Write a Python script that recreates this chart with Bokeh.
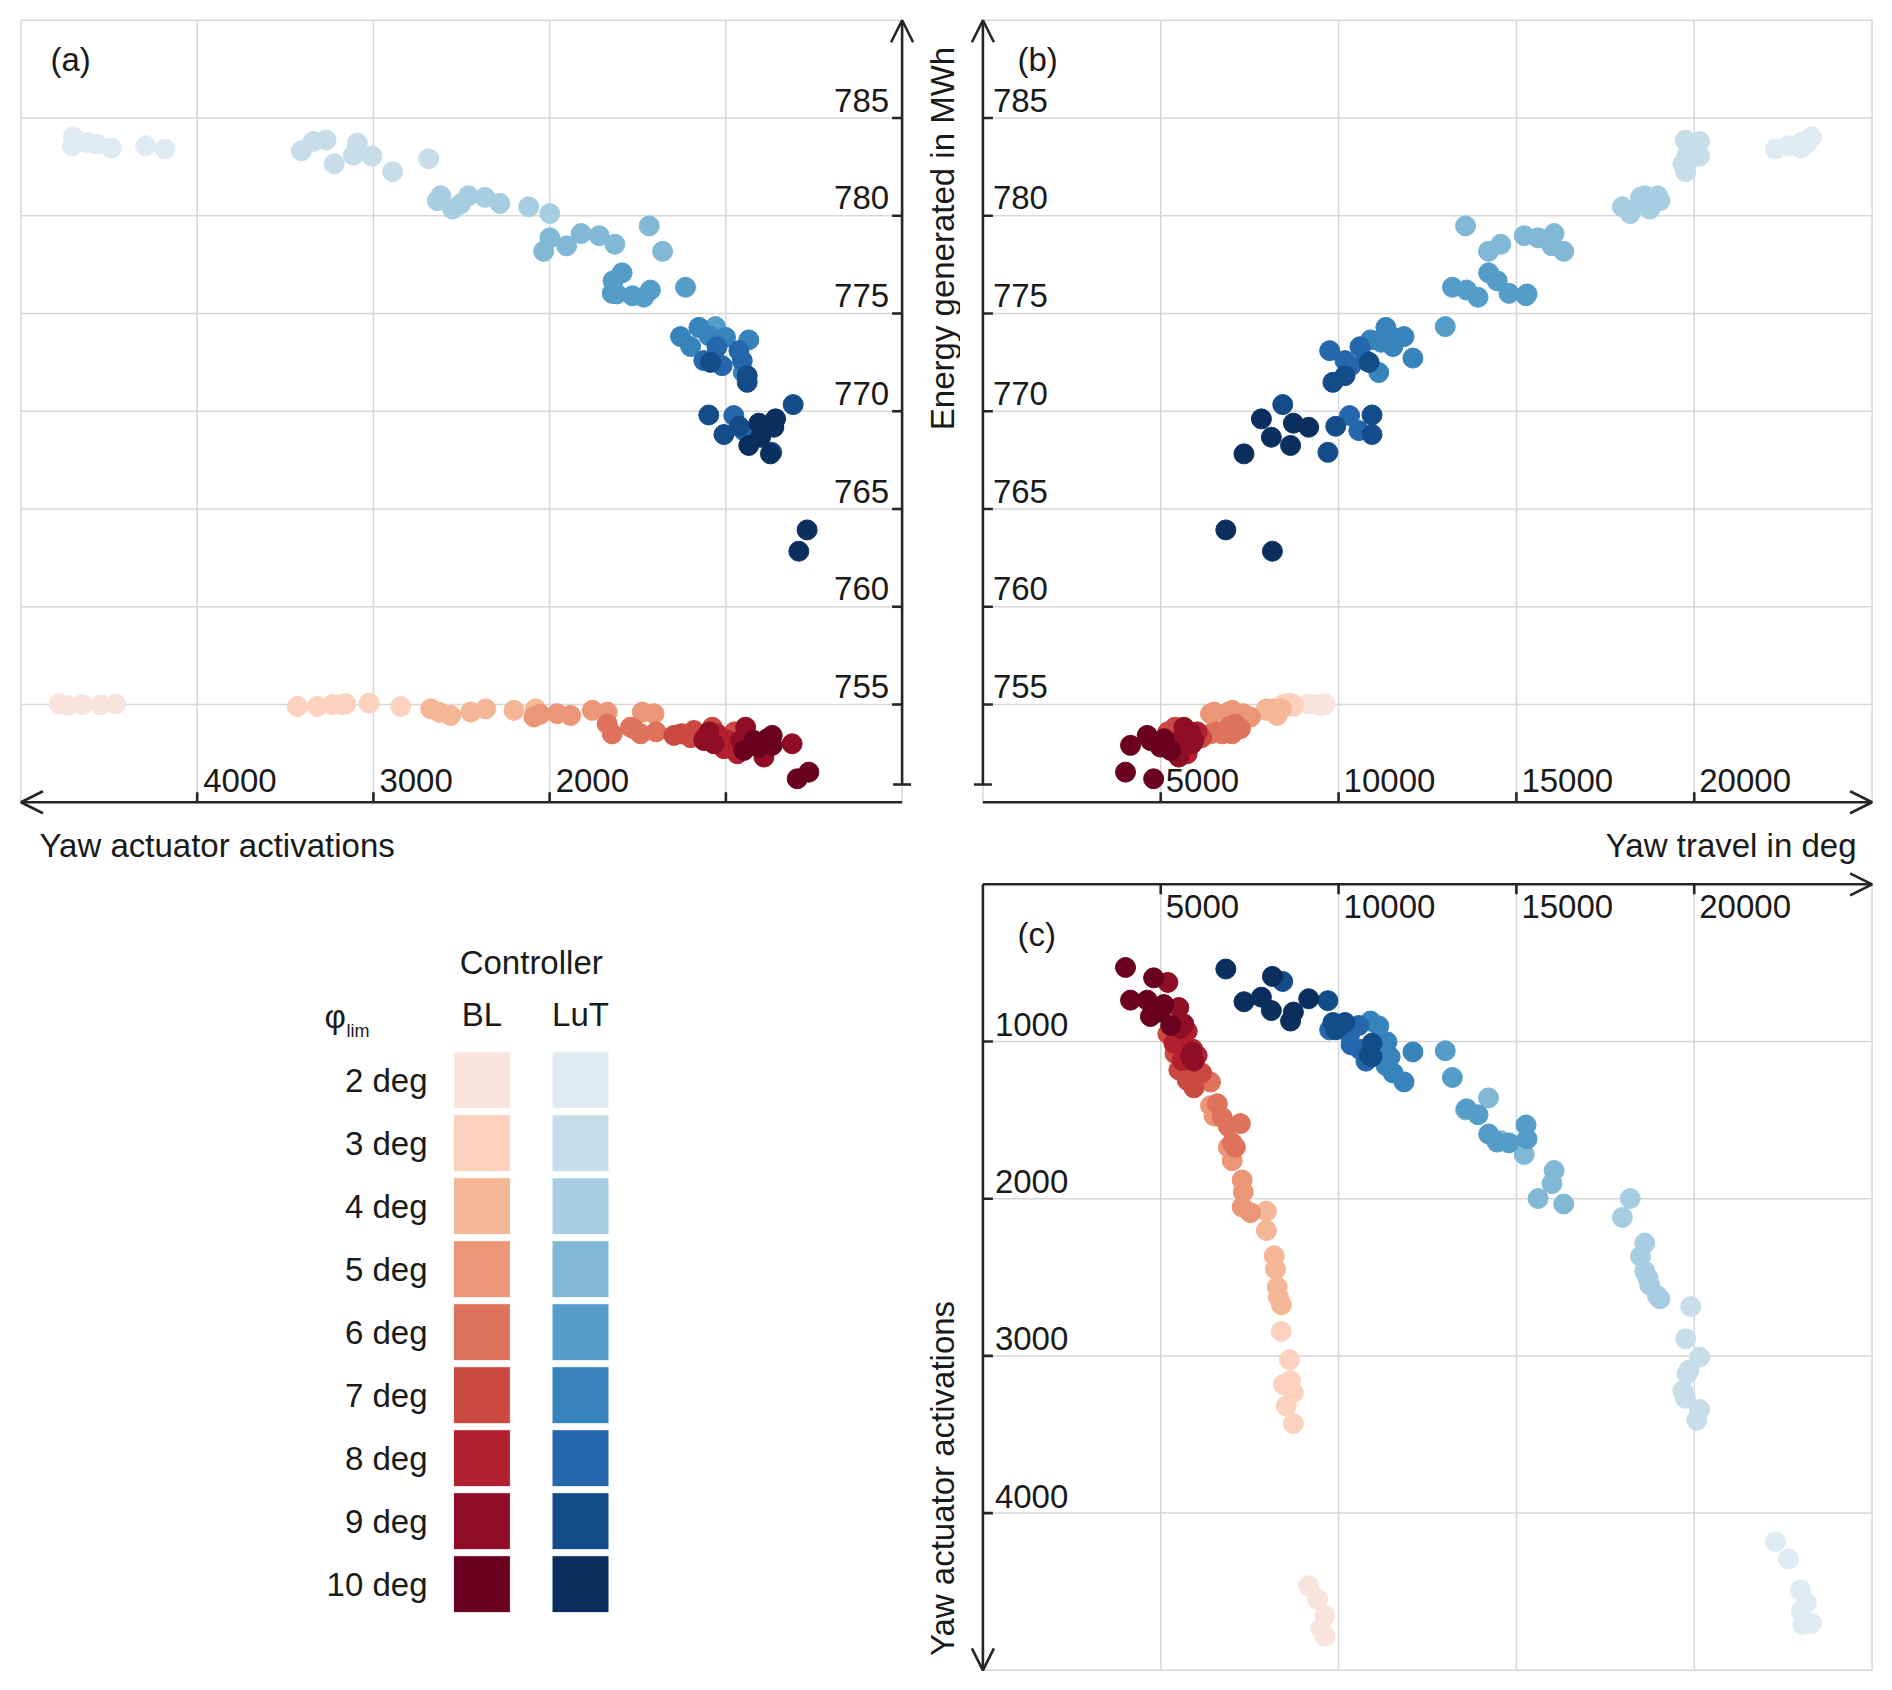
import math
from bokeh.plotting import figure
from bokeh.models import Range1d, Arrow, OpenHead
from bokeh.layouts import column, row
from bokeh.core.properties import value
from bokeh.embed import file_html
from bokeh.resources import INLINE

# ---------------- data ----------------
phi_labels = ["2 deg", "3 deg", "4 deg", "5 deg", "6 deg", "7 deg", "8 deg", "9 deg", "10 deg"]
bl_colors = ["#f8e4dc", "#fcd2be", "#f5b696", "#eb9677", "#de725b", "#ca4a42", "#b21f2e", "#8f0e25", "#6a0020"]
lut_colors = ["#dfebf3", "#c7ddea", "#a7cde3", "#80b8d6", "#539dc8", "#3783bc", "#2467ac", "#144c8a", "#0a2f5e"]

lut_activations = [
    [4182, 4292, 4487, 4570, 4623, 4702, 4708],
    [2686, 2891, 3008, 3091, 3114, 3222, 3269, 3341, 3409],
    [1999, 2119, 2282, 2367, 2461, 2505, 2550, 2618, 2637],
    [1359, 1435, 1630, 1719, 1821, 1904, 1999, 2034],
    [1229, 1466, 1428, 1531, 1589, 1640, 1645, 1620, 1059],
    [870, 1002, 1153, 1257, 1200, 1066, 1097, 1049, 901],
    [926, 907, 1021, 1125, 955, 898, 1050],
    [618, 879, 879, 1087, 1097, 1011, 740, 925],
    [539, 586, 718, 728, 747, 803, 813, 870],
]
lut_travel = [
    [22280, 22650, 22990, 23150, 23000, 23300, 23050],
    [19900, 19760, 20150, 19850, 19800, 19680, 19750, 20150, 20070],
    [18200, 17980, 18610, 18490, 18610, 18700, 18750, 18970, 19035],
    [14215, 13570, 14560, 15220, 16060, 16000, 15610, 16330],
    [13200, 13920, 13600, 15270, 14220, 14460, 14790, 15300, 13000],
    [10900, 11360, 11330, 11840, 11530, 12090, 11450, 11200, 11130],
    [9750, 10180, 10350, 10770, 10310, 10570, 10600],
    [8430, 10180, 9840, 10860, 10940, 10940, 9700, 9920],
    [6830, 8140, 7830, 9160, 7340, 8110, 8730, 8650],
]
lut_energy = [
    [783.41, 783.58, 783.46, 783.67, 783.75, 784.04, 783.58],
    [782.92, 782.25, 783.05, 783.72, 783.10, 782.66, 783.87, 783.80, 783.32],
    [780.11, 780.46, 780.63, 780.94, 781.02, 780.60, 780.34, 781.02, 780.77],
    [778.18, 779.48, 778.54, 778.98, 779.09, 778.46, 778.87, 778.18],
    [776.34, 775.83, 776.20, 775.91, 777.08, 776.67, 776.03, 776.00, 774.33],
    [773.65, 773.78, 774.29, 773.82, 773.31, 772.72, 773.87, 773.53, 771.98],
    [773.10, 772.59, 772.33, 772.59, 769.78, 769.01, 773.30],
    [770.34, 771.82, 771.48, 772.50, 769.81, 768.81, 767.90, 769.23],
    [763.93, 762.84, 769.61, 769.18, 767.82, 768.67, 769.39, 768.25],
]

bl_activations = [
    [4462, 4547, 4651, 4736, 4784],
    [2845, 3025, 3157, 3181, 3233, 3318, 3431],
    [2080, 2202, 2363, 2448, 2562, 2626, 2675],
    [1408, 1474, 1673, 1758, 1881, 1957, 2053, 2089],
    [1258, 1396, 1484, 1522, 1541, 1645, 1673],
    [951, 1077, 1181, 1200, 1247, 1295],
    [935, 992, 1011, 1049, 1089, 1121],
    [624, 784, 888, 917, 1068, 1096, 1125],
    [529, 595, 737, 737, 765, 813, 841, 898],
]
bl_travel = [
    [9160, 9410, 9620, 9500, 9620],
    [8390, 8620, 8650, 8450, 8730, 8530, 8730],
    [7970, 7970, 8190, 8225, 8276, 8310, 8394],
    [6400, 6500, 6900, 7010, 7290, 7320, 7290, 7525],
    [6400, 6590, 6730, 7240, 6900, 7010, 7100],
    [5200, 5400, 5510, 6150, 5744, 5932],
    [5744, 5600, 5370, 5900, 6025, 5604],
    [5200, 5510, 5650, 5560, 5880, 5840, 5930],
    [4010, 4800, 4150, 4620, 5090, 4990, 4710, 5280],
]
bl_energy = [
    [755.02, 754.98, 755.00, 754.96, 755.04],
    [754.90, 755.07, 755.04, 755.00, 755.00, 754.90, 754.90],
    [754.78, 754.70, 754.78, 754.61, 754.44, 754.60, 754.78],
    [754.53, 754.61, 754.61, 754.70, 754.44, 754.53, 754.50, 754.36],
    [753.50, 753.60, 753.50, 753.76, 753.84, 753.50, 754.00],
    [753.60, 753.84, 753.67, 753.30, 753.50, 753.42],
    [752.48, 753.16, 752.74, 753.50, 753.60, 753.30],
    [752.99, 752.31, 753.84, 753.16, 752.99, 753.59, 753.16],
    [751.54, 751.20, 752.91, 753.42, 753.25, 752.82, 753.16, 752.65],
]

energy_ticks = [755, 760, 765, 770, 775, 780, 785]
energy_limits = [750, 790]
act_ticks_a = [1000, 2000, 3000, 4000]
act_labelled_a = [2000, 3000, 4000]
act_limits = [0, 5000]
travel_ticks = [5000, 10000, 15000, 20000]
travel_limits = [0, 25000]
act_ticks_c = [1000, 2000, 3000, 4000]

# ---------------- layout calibration (screenshot pixels) ----------------
X0, XS, X1 = 0, 960, 1884
Y0, YS, Y1 = 0, 864, 1682
A0_PX, A_PX = 901.6, 0.17623      # panel (a) x: A=0 position, px per activation
E0_PY, E_PX = 704.0, 19.55        # panels (a,b) y: E=755 position, px per MWh
T0_PX, T_PX = 982.4, 0.035567     # panels (b,c) x: T=0 position, px per deg
C0_PY, C_PY = 883.8, 0.1572       # panel (c) y: A=0 position, px per activation


def ax(px):
    return (A0_PX - px) / A_PX


def ey(py):
    return 755 + (E0_PY - py) / E_PX


def tx(px):
    return (px - T0_PX) / T_PX


def cy(py):
    return (py - C0_PY) / C_PY


FONT = value("Liberation Sans")
FS = value("33px")
TXT = "#1a1a1a"
AXC = "#262626"
AXW = 2.6
GRID = "#d7d7d7"
GW = 1.5
DOT = 20


def make_fig(w, h, xr, yr):
    p = figure(width=w, height=h, x_range=xr, y_range=yr, output_backend="svg",
               toolbar_location=None, x_axis_location=None, y_axis_location=None,
               min_border=0, min_border_left=0, min_border_right=0,
               min_border_top=0, min_border_bottom=0)
    p.outline_line_color = None
    p.grid.visible = False
    p.background_fill_color = "white"
    p.border_fill_color = "white"
    return p


def txt(p, x, y, s, **kw):
    kw.setdefault("text_color", TXT)
    kw.setdefault("text_font_size", FS)
    kw.setdefault("text_baseline", "middle")
    p.text(x=x, y=y, text=s, text_font=FONT, **kw)


def arrow(p, xs, ys, xe, ye):
    p.add_layout(Arrow(end=OpenHead(size=22, line_color=AXC, line_width=AXW),
                       x_start=xs, y_start=ys, x_end=xe, y_end=ye,
                       line_color=AXC, line_width=AXW))


WL, WR = XS - X0, X1 - XS
HT, HB = YS - Y0, Y1 - YS

# ---------------- panel (a) ----------------
pa = make_fig(WL, HT, Range1d(ax(X0), ax(XS)), Range1d(ey(YS), ey(Y0)))
grid_a_x = act_ticks_a + [act_limits[1]]
pa.segment(x0=grid_a_x, y0=energy_limits[0], x1=grid_a_x, y1=energy_limits[1], line_color=GRID, line_width=GW)
grid_e = energy_ticks + [energy_limits[1]]
pa.segment(x0=act_limits[0], y0=grid_e, x1=act_limits[1], y1=grid_e, line_color=GRID, line_width=GW)
pa.segment(x0=act_limits[0], y0=energy_limits[0], x1=act_limits[0], y1=energy_limits[1], line_color=GRID, line_width=GW)
for k in range(9):
    pa.scatter(x=lut_activations[k], y=lut_energy[k], size=DOT, color=lut_colors[k])
for k in range(9):
    pa.scatter(x=bl_activations[k], y=bl_energy[k], size=DOT, color=bl_colors[k])
e_cap = ey(784)
arrow(pa, 0, energy_limits[0], act_limits[1], energy_limits[0])
arrow(pa, 0, e_cap, 0, energy_limits[1])
pa.segment(x0=ax(A0_PX - 9), y0=e_cap, x1=ax(A0_PX + 9), y1=e_cap, line_color=AXC, line_width=AXW)
pa.segment(x0=act_ticks_a, y0=energy_limits[0], x1=act_ticks_a, y1=energy_limits[0] + 10 / E_PX, line_color=AXC, line_width=AXW)
pa.segment(x0=0, y0=energy_ticks, x1=10 / A_PX, y1=energy_ticks, line_color=AXC, line_width=AXW)
txt(pa, act_labelled_a, energy_limits[0], [str(v) for v in act_labelled_a], x_offset=6, y_offset=-22,
    text_align="left")
txt(pa, 0, energy_ticks, [str(v) for v in energy_ticks], x_offset=-13, y_offset=-18,
    text_align="right")
txt(pa, [ax(50)], [ey(59)], ["(a)"], text_align="left")
txt(pa, [ax(39)], [ey(845)], ["Yaw actuator activations"], text_align="left")
txt(pa, [ax(942)], [ey(238)], ["Energy generated in MWh"], text_align="center", angle=math.pi / 2)

# ---------------- panel (b) ----------------
pb = make_fig(WR, HT, Range1d(tx(XS), tx(X1)), Range1d(ey(YS), ey(Y0)))
grid_t = travel_ticks + [travel_limits[1]]
pb.segment(x0=grid_t, y0=energy_limits[0], x1=grid_t, y1=energy_limits[1], line_color=GRID, line_width=GW)
pb.segment(x0=travel_limits[0], y0=grid_e, x1=travel_limits[1], y1=grid_e, line_color=GRID, line_width=GW)
pb.segment(x0=travel_limits[0], y0=energy_limits[0], x1=travel_limits[0], y1=energy_limits[1], line_color=GRID, line_width=GW)
for k in range(9):
    pb.scatter(x=lut_travel[k], y=lut_energy[k], size=DOT, color=lut_colors[k])
for k in range(9):
    pb.scatter(x=bl_travel[k], y=bl_energy[k], size=DOT, color=bl_colors[k])
arrow(pb, 0, energy_limits[0], travel_limits[1], energy_limits[0])
arrow(pb, 0, e_cap, 0, energy_limits[1])
pb.segment(x0=tx(T0_PX - 9), y0=e_cap, x1=tx(T0_PX + 9), y1=e_cap, line_color=AXC, line_width=AXW)
pb.segment(x0=travel_ticks, y0=energy_limits[0], x1=travel_ticks, y1=energy_limits[0] + 10 / E_PX, line_color=AXC, line_width=AXW)
pb.segment(x0=0, y0=energy_ticks, x1=10 / T_PX, y1=energy_ticks, line_color=AXC, line_width=AXW)
txt(pb, travel_ticks, energy_limits[0], [str(v) for v in travel_ticks], x_offset=5, y_offset=-22,
    text_align="left")
txt(pb, 0, energy_ticks, [str(v) for v in energy_ticks], x_offset=10, y_offset=-18,
    text_align="left")
txt(pb, [tx(1017)], [ey(59)], ["(b)"], text_align="left")
txt(pb, [tx(1856)], [ey(845)], ["Yaw travel in deg"], text_align="right")

# ---------------- panel (c) ----------------
pc = make_fig(WR, HB, Range1d(tx(XS), tx(X1)), Range1d(cy(Y1), cy(YS)))
pc.segment(x0=grid_t, y0=act_limits[0], x1=grid_t, y1=act_limits[1], line_color=GRID, line_width=GW)
grid_c = act_ticks_c + [act_limits[1]]
pc.segment(x0=travel_limits[0], y0=grid_c, x1=travel_limits[1], y1=grid_c, line_color=GRID, line_width=GW)
for k in range(9):
    pc.scatter(x=lut_travel[k], y=lut_activations[k], size=DOT, color=lut_colors[k])
for k in range(9):
    pc.scatter(x=bl_travel[k], y=bl_activations[k], size=DOT, color=bl_colors[k])
arrow(pc, 0, 0, travel_limits[1], 0)
arrow(pc, 0, 0, 0, act_limits[1])
pc.segment(x0=travel_ticks, y0=0, x1=travel_ticks, y1=10 / C_PY, line_color=AXC, line_width=AXW)
pc.segment(x0=0, y0=act_ticks_c, x1=10 / T_PX, y1=act_ticks_c, line_color=AXC, line_width=AXW)
txt(pc, travel_ticks, 0, [str(v) for v in travel_ticks], x_offset=5, y_offset=22, text_align="left")
txt(pc, 0, act_ticks_c, [str(v) for v in act_ticks_c], x_offset=12, y_offset=-17, text_align="left")
txt(pc, [tx(1017)], [cy(934)], ["(c)"], text_align="left")

# ---------------- legend panel (screenshot-pixel coordinates) ----------------
pl = make_fig(WL, HB, Range1d(X0, XS), Range1d(Y1, YS))
ROW0, STEP, SW = 1079.7, 63.0, 57
rows_y = [ROW0 + i * STEP for i in range(len(phi_labels))]
pl.rect(x=481.4, y=rows_y, width=SW, height=SW, fill_color=bl_colors, line_color="white", line_width=1)
pl.rect(x=580.0, y=rows_y, width=SW, height=SW, fill_color=lut_colors, line_color="white", line_width=1)
txt(pl, 427, rows_y, phi_labels, text_align="right")
txt(pl, [530.7], [961.5], ["Controller"], text_align="center")
txt(pl, [481.4, 580.0], [1013.7, 1013.7], ["BL", "LuT"], text_align="center")
txt(pl, [324], [1016], ["φ"], text_align="left")
txt(pl, [346], [1030], ["lim"], text_align="left", text_font_size=value("18px"))
txt(pl, [942], [1478], ["Yaw actuator activations"], text_align="center", angle=math.pi / 2)

layout = column(row(pa, pb), row(pl, pc))
open("out.html", "w").write(file_html(layout, INLINE))
